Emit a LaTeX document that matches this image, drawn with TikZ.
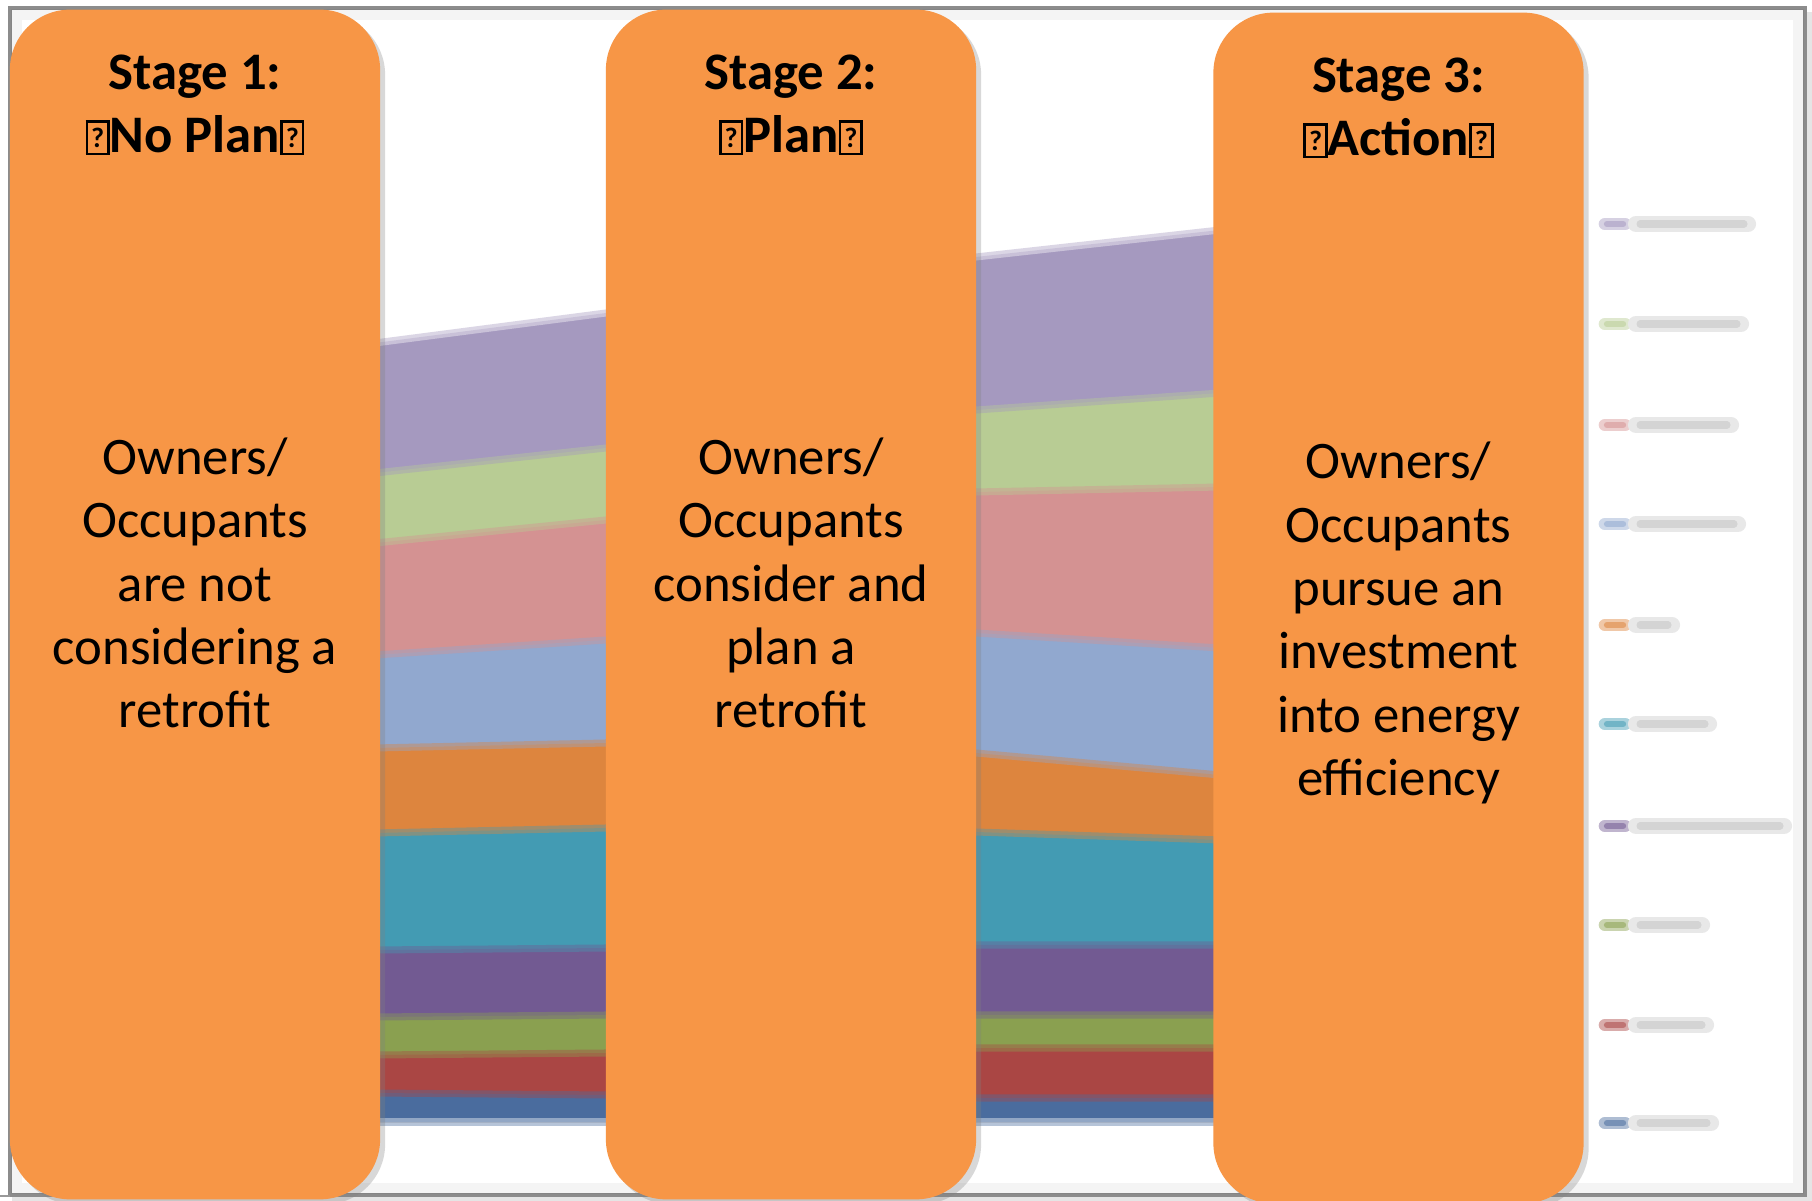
\documentclass[tikz,border=0pt]{standalone}
\usepackage{fontspec}
\setmainfont{Carlito}
\usetikzlibrary{shadows}
\definecolor{stageO}{RGB}{247,150,70}
\definecolor{sLav}{RGB}{165,153,191}
\definecolor{sLGrn}{RGB}{184,204,148}
\definecolor{sPink}{RGB}{212,146,146}
\definecolor{sLBlu}{RGB}{145,168,207}
\definecolor{sOrg}{RGB}{221,133,62}
\definecolor{sTeal}{RGB}{67,155,179}
\definecolor{sPurp}{RGB}{114,90,146}
\definecolor{sGrn}{RGB}{138,160,80}
\definecolor{sRed}{RGB}{170,70,68}
\definecolor{sBlu}{RGB}{74,108,158}
% the box standing for a glyph the font did not have
\newcommand{\qbox}{{\fboxsep=0pt\fboxrule=0.75pt\fbox{\vbox to 8.4pt{\vss\hbox to 5.4pt{\hss\fontsize{8}{8}\selectfont ?\hss}\vss}}}}

\begin{document}
\begin{tikzpicture}[x=0.01cm,y=-0.01cm,
  stage/.style={fill=stageO,rounded corners=0.6cm,minimum width=3.7cm,inner sep=0pt,
    drop shadow={shadow xshift=0.5mm,shadow yshift=-0.5mm,opacity=0.3}},
  ttl/.style={font=\fontsize{15}{18}\selectfont\bfseries,align=center,inner sep=0pt},
  txt/.style={font=\fontsize{15}{18}\selectfont,align=center,inner sep=0pt}]
\useasboundingbox (0,0) rectangle (1812,1201);
\fill[white] (0,0) rectangle (1812,1201);
% ---------- chart frame ----------
\fill[black!10] (1805,12) rectangle (1812,1201);
\fill[black!10] (12,1195) rectangle (1812,1201);
\draw[black!45,line width=0.9pt] (10,8) rectangle (1805,1195);
\draw[black!40,line width=0.6pt] (0,1196)--(10,1196);
\foreach \i in {1,...,6}
  \draw[black,opacity=0.045,line width=0.55pt] ({10+1.9*\i},{8+1.9*\i}) rectangle ({1805-1.9*\i},{1195-1.9*\i});
% ---------- stacked areas (top layer first) ----------
\foreach \col/\p/\q/\r/\s in {sLav/343/313/257/230, sLGrn/473/448/410/393,
    sPink/543/520/492/487, sLBlu/655/640/633/648, sOrg/748/743/753/775,
    sTeal/833/828/832/840, sPurp/950/948/945/945, sGrn/1017/1015/1015/1015,
    sRed/1055/1053/1048/1048, sBlu/1093/1095/1098/1098}
  \fill[\col] (375,\p)--(606,\q)--(976,\r)--(1220,\s)--(1220,1122)--(375,1122)--cycle;
% soft edges between layers
\foreach \ca/\cb/\p/\q/\r/\s in {white/sLav/343/313/257/230, sLav/sLGrn/473/448/410/393,
    sLGrn/sPink/543/520/492/487, sPink/sLBlu/655/640/633/648, sLBlu/sOrg/748/743/753/775,
    sOrg/sTeal/833/828/832/840, sTeal/sPurp/950/948/945/945, sPurp/sGrn/1017/1015/1015/1015,
    sGrn/sRed/1055/1053/1048/1048, sRed/sBlu/1093/1095/1098/1098, sBlu/white/1122/1122/1122/1122}
  \draw[\ca!50!\cb,line width=2pt,opacity=0.8] (375,\p)--(606,\q)--(976,\r)--(1220,\s);
% ---------- legend ----------
\foreach \col/\y/\e in {sLav/224/1748, sLGrn/324/1741, sPink/425/1731, sLBlu/524/1738,
    sOrg/625/1672, sTeal/724/1709, sPurp/826/1784, sGrn/925/1702, sRed/1025/1706, sBlu/1123/1711}{
  \draw[\col!45!white,line width=3.6pt,line cap=round] (1605,\y)--(1625,\y);
  \draw[\col!75!white,line width=1.8pt,line cap=round] (1607,\y)--(1623,\y);
  \draw[black!9,line width=4.6pt,line cap=round] (1636,\y)--(\e,\y);
  \draw[black!17,line width=2pt,line cap=round] (1640,\y)--({\e-4},\y);
}
% ---------- stages ----------
\node[stage,minimum height=11.89cm] (box1) at (195,604.5) {};
\node[stage,minimum height=11.89cm] (box2) at (791,604.5) {};
\node[stage,minimum height=11.9cm] (box3) at (1398.5,608) {};
\node[ttl] (ttl1) at (box1.center|-0,105) {Stage 1:\\\qbox No Plan\qbox};
\node[ttl] (ttl2) at (box2.center|-0,105) {Stage 2:\\\qbox Plan\qbox};
\node[ttl] (ttl3) at (box3.center|-0,108) {Stage 3:\\\qbox Action\qbox};
\node[txt] (txt1) at (box1.center|-0,583) {Owners/\\Occupants\\are not\\considering a\\retrofit};
\node[txt] (txt2) at (box2.center|-0,583) {Owners/\\Occupants\\consider and\\plan a\\retrofit};
\node[txt] (txt3) at (box3.center|-0,623) {Owners/\\Occupants\\pursue an\\investment\\into energy\\efficiency};
\end{tikzpicture}
\end{document}
